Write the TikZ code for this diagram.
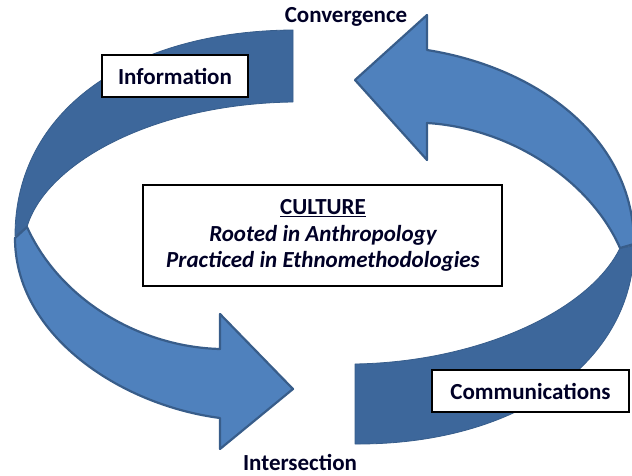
\documentclass[tikz,border=0pt]{standalone}
\usepackage{fontspec}
\setmainfont{Carlito}
\definecolor{frontblue}{HTML}{4F81BD}
\definecolor{backblue}{HTML}{3D679B}
\definecolor{edgeblue}{HTML}{385D8A}
\begin{document}
\begin{tikzpicture}[x=1pt,y=-1pt,
  labelbox/.style={draw=black,line width=1.4pt,fill=white,inner sep=0pt,
    font=\fontsize{23}{27}\selectfont\bfseries,text=black!85!blue},
  plainlabel/.style={inner sep=0pt,font=\fontsize{23}{27}\selectfont\bfseries,text=black!85!blue},
  itlabel/.style={plainlabel,font=\fontsize{23}{27}\selectfont\bfseries\itshape},
  frontpart/.style={fill=frontblue,draw=edgeblue,line width=2.2pt,line join=round},
  backpart/.style={fill=backblue,draw=backblue!90!black,line width=0.8pt,line join=round}]
\useasboundingbox (0,0) rectangle (632,476);
% left arrow: back band
\path[backpart] (293,30) .. controls (130,31) and (15,110) .. (15,236)
  -- (27,227) .. controls (45,165) and (150,104) .. (293,102) -- cycle;
% right arrow: back band
\path[backpart] (355,444) .. controls (520,445) and (634,360) .. (634,246)
  -- (620,248) .. controls (590,310) and (480,362) .. (355,364) -- cycle;
% left arrow: front with head
\path[frontpart] (27,227) .. controls (60,300) and (140,347) .. (220,349)
  -- (220,314) -- (293,389) -- (220,449) -- (220,418)
  .. controls (120,405) and (15,335) .. (15,238) -- cycle;
% right arrow: front with head
\path[frontpart] (620,248) .. controls (590,180) and (510,128) .. (427,123)
  -- (427,160) -- (355,80) -- (427,15) -- (427,50)
  .. controls (540,68) and (634,140) .. (634,244) -- cycle;
% boxes
\node[labelbox,minimum width=146pt,minimum height=42pt] (info) at (175,76) {Information};
\node[labelbox,minimum width=197pt,minimum height=42pt] (comm) at (530.5,391) {Communications};
\node[draw=black,line width=1.4pt,fill=white,minimum width=359pt,minimum height=101pt] (culturebox) at (322.5,235.5) {};
\node[plainlabel] (culture) at (323,208) {\underline{CULTURE}};
\node[itlabel] (rooted) at (323,235) {Rooted in Anthropology};
\node[itlabel] (practiced) at (323,261) {Practiced in Ethnomethodologies};
\node[plainlabel] (conv) at (346,17) {Convergence};
\node[plainlabel] (inter) at (300,462) {Intersection};
\end{tikzpicture}
\end{document}
